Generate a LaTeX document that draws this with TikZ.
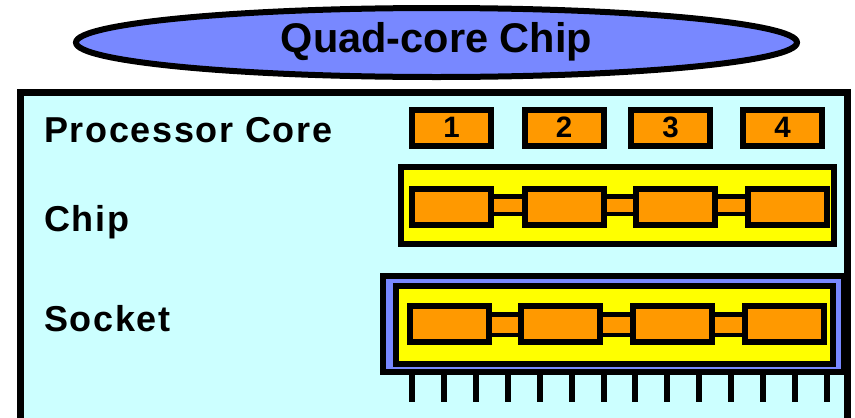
\documentclass[tikz,border=0pt]{standalone}
\usepackage{fontspec}
\setmainfont{Liberation Sans}
\newfontfamily\lblfont{Liberation Sans}[LetterSpace=4.7]
\usetikzlibrary{shapes.geometric,calc}
\definecolor{bgcyan}{RGB}{204,255,255}
\definecolor{periw}{RGB}{120,136,255}
\definecolor{coreor}{RGB}{255,153,0}
\definecolor{chipyel}{RGB}{255,255,0}
\pgfdeclarelayer{back}
\pgfdeclarelayer{mid}
\pgfsetlayers{back,mid,main}
\tikzset{
  box/.style={draw=black, inner sep=0pt, outer sep=0pt},
  core/.style={box, line width=6pt, fill=coreor, minimum width=79pt, minimum height=36pt,
    font=\bfseries\fontsize{29.5}{31}\selectfont},
  link/.style={draw=black, line width=4.5pt, fill=coreor},
  chipbox/.style={box, line width=6pt, fill=chipyel},
  sockbox/.style={box, line width=6pt, fill=periw},
  pin/.style={draw=black, line width=6pt},
  lbl/.style={inner sep=0pt, outer sep=0pt, anchor=base west,
    font=\lblfont\bfseries\fontsize{36}{40}\selectfont},
}
\begin{document}
\begin{tikzpicture}[x=1pt,y=-1pt]
\useasboundingbox (0,0) rectangle (855,418);
\clip (0,0) rectangle (855,418);
\begin{pgfonlayer}{back}
  \fill[white] (0,0) rectangle (855,418);
  \node[ellipse, box, line width=6pt, fill=periw, minimum width=721pt, minimum height=69pt] (ell) at (436.5,42.5) {};
  \node[box, line width=7pt, fill=bgcyan, minimum width=827pt, minimum height=360pt, anchor=north west] (frame) at (20.5,92.5) {};
  \node[chipbox, minimum width=433pt, minimum height=77pt] (chip) at (617.5,205.5) {};
  \node[sockbox, minimum width=461pt, minimum height=96pt] (sock) at (613.5,324) {};
  \node[chipbox, minimum width=437pt, minimum height=78pt] (schip) at (614.5,325) {};
\end{pgfonlayer}
\node[inner sep=0pt, anchor=base, font=\bfseries\fontsize{41.5}{44}\selectfont] (title) at (436.5,52) {Quad-core Chip};
\node[lbl] (lpc) at (44,142) {Processor Core};
\node[lbl] (lchip) at (44,231) {Chip};
\node[lbl] (lsock) at (44,331) {Socket};
% processor cores
\node[core] (p1) at (451.5,127.5) {1};
\node[core] (p2) at (564,127.5) {2};
\node[core] (p3) at (670.5,127.5) {3};
\node[core] (p4) at (782.5,127.5) {4};
% chip cores
\node[core] (c1) at (451,206.5) {};
\node[core] (c2) at (564,206.5) {};
\node[core] (c3) at (675,206.5) {};
\node[core] (c4) at (787,206.5) {};
% socket cores
\node[core, minimum height=36.5pt] (s1) at (449,324) {};
\node[core, minimum height=36.5pt] (s2) at (560.5,324) {};
\node[core, minimum height=36.5pt] (s3) at (672.5,324) {};
\node[core, minimum height=36.5pt] (s4) at (784.5,324) {};
\begin{pgfonlayer}{mid}
  \foreach \a/\b in {c1/c2,c2/c3,c3/c4}
    \draw[link] ($(\a.east)+(0,-1.5-8.75)$) rectangle ($(\b.west)+(0,-1.5+8.75)$);
  \foreach \a/\b in {s1/s2,s2/s3,s3/s4}
    \draw[link] ($(\a.east)+(0,0.5-10.25)$) rectangle ($(\b.west)+(0,0.5+10.25)$);
\end{pgfonlayer}
% pins
\foreach \i in {0,...,13}
  \draw[pin] ({412+\i*31.92},372) -- ({412+\i*31.92},402);
\end{tikzpicture}
\end{document}
